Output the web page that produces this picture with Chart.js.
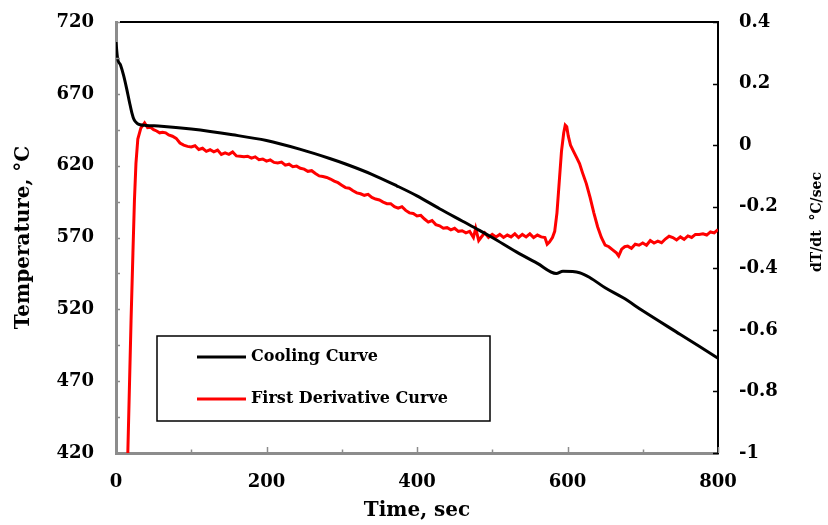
<!DOCTYPE html>
<html>
<head>
<meta charset="utf-8">
<title>Cooling curve</title>
<script src="https://cdn.jsdelivr.net/npm/chart.js@4.4.1/dist/chart.umd.min.js"></script>
<style>
  html, body { margin: 0; padding: 0; background: #fff; }
  #wrap { position: relative; width: 828px; height: 525px; }
</style>
</head>
<body>
<div id="wrap"><canvas id="coolingChart"></canvas></div>
<script>
(function () {
  'use strict';

  // ---- Data ----
  const coolTime = [0, 2, 6, 10, 14, 18, 21, 24, 28, 32, 40, 60, 100, 155, 200, 244, 284, 306, 340, 373, 400, 430,
    460, 483, 500, 532, 560, 585, 594, 616, 630, 650, 674, 700, 750, 800];
  const coolTemp = [706, 695, 690, 683, 674, 664, 657, 652, 649.5, 648.5, 648, 647.5, 645.5, 641.5, 637.5, 631.5, 625, 621, 614, 606, 599, 590,
    581.5, 575, 570, 560, 552, 545, 546.5, 545.5, 542, 535, 528, 519, 502.5, 486];

  const derivTime = [14, 15.7, 20, 22.5, 24.5, 26.5, 29, 33, 38, 42, 46, 50, 54, 58, 62, 66, 70, 75, 80, 85, 90, 95,
    100, 105, 110, 115, 120, 125, 130, 135, 140, 145, 150, 155, 160, 165, 170, 175, 180, 185, 190, 195,
    200, 205, 210, 215, 220, 225, 230, 235, 240, 245, 250, 255, 260, 265, 270, 275, 280, 285, 290, 295,
    300, 305, 310, 315, 320, 325, 330, 335, 340, 345, 350, 355, 360, 365, 370, 375, 380, 385, 390, 395,
    400, 405, 410, 415, 420, 425, 430, 435, 440, 445, 450, 455, 460, 465, 470, 475, 478, 482, 485, 490, 495,
    500, 505, 510, 515, 520, 525, 530, 535, 540, 545, 550, 555, 560, 565, 570, 573, 576, 580, 583, 586, 589, 592, 595, 597, 599,
    601, 604, 608, 612, 616, 620, 625, 630, 635, 640, 645, 650, 655, 660, 665, 668, 672, 676, 680, 685, 690, 695,
    700, 705, 710, 715, 720, 725, 730, 735, 740, 745, 750, 755, 760, 765, 770, 775, 780, 785, 790, 795, 800];
  const derivRate = [-1.1, -1, -0.57, -0.35, -0.18, -0.06, 0.02, 0.055, 0.072, 0.057, 0.058, 0.05, 0.046, 0.04, 0.042, 0.04, 0.033, 0.029, 0.022, 0.007, 0.0, -0.004,
    -0.006, -0.002, -0.014, -0.01, -0.02, -0.015, -0.022, -0.016, -0.03, -0.025, -0.03, -0.022, -0.035, -0.036, -0.038, -0.036, -0.042, -0.038, -0.047, -0.045,
    -0.052, -0.048, -0.056, -0.058, -0.055, -0.065, -0.062, -0.07, -0.068, -0.075, -0.078, -0.085, -0.083, -0.092, -0.1, -0.102, -0.105, -0.11, -0.117, -0.122,
    -0.13, -0.138, -0.14, -0.148, -0.155, -0.158, -0.163, -0.16, -0.17, -0.175, -0.178, -0.185, -0.19, -0.19, -0.2, -0.205, -0.2, -0.212, -0.22, -0.222,
    -0.23, -0.228, -0.24, -0.25, -0.245, -0.258, -0.262, -0.27, -0.268, -0.275, -0.27, -0.28, -0.278, -0.285, -0.28, -0.3, -0.27, -0.31, -0.3, -0.285, -0.3,
    -0.29, -0.298, -0.29, -0.3, -0.292, -0.298, -0.288, -0.3, -0.29, -0.298, -0.288, -0.3, -0.292, -0.298, -0.3, -0.322, -0.315, -0.3, -0.28, -0.22, -0.12, -0.02, 0.04, 0.065, 0.06,
    0.03, 0.0, -0.02, -0.04, -0.06, -0.09, -0.125, -0.17, -0.22, -0.265, -0.3, -0.325, -0.33, -0.34, -0.35, -0.36, -0.338, -0.33, -0.328, -0.335, -0.322, -0.325,
    -0.318, -0.325, -0.31, -0.318, -0.312, -0.317, -0.305, -0.296, -0.3, -0.308, -0.298, -0.306, -0.295, -0.3, -0.29, -0.29, -0.288, -0.292, -0.282, -0.285, -0.274];

  const timeTicks = [0, 200, 400, 600, 800];
  const tempTicks = [420, 470, 520, 570, 620, 670, 720];
  const rateTicks = [-1, -0.8, -0.6, -0.4, -0.2, 0, 0.2, 0.4];

  const FONT = "'DejaVu Serif', 'Liberation Serif', serif";
  const GREY = '#8c8c8c';

  // ---- Frame, inner tick marks, legend box, right title ----
  const decor = {
    id: 'decor',
    afterDraw(chart) {
      const { ctx, chartArea: a, scales } = chart;
      const xs = scales.x, yl = scales.y, yr = scales.y2;
      ctx.save();

      // top frame line
      ctx.strokeStyle = '#000';
      ctx.lineWidth = 2;
      ctx.beginPath();
      ctx.moveTo(a.left + 4, Math.round(a.top));
      ctx.lineTo(a.right, Math.round(a.top));
      ctx.stroke();

      // left axis ticks (inside)
      ctx.strokeStyle = GREY;
      ctx.lineWidth = 1.5;
      for (let v = tempTicks[0]; v <= tempTicks[tempTicks.length - 1]; v += 25) {
        const y = Math.round(yl.getPixelForValue(v)) + 0.5;
        ctx.beginPath();
        ctx.moveTo(a.left, y);
        ctx.lineTo(a.left + 4, y);
        ctx.stroke();
      }
      // bottom axis ticks (inside)
      for (let v = timeTicks[0]; v <= timeTicks[timeTicks.length - 1]; v += 100) {
        const x = Math.round(xs.getPixelForValue(v)) + 0.5;
        const len = timeTicks.includes(v) ? 6 : 3.5;
        ctx.beginPath();
        ctx.moveTo(x, a.bottom);
        ctx.lineTo(x, a.bottom - len);
        ctx.stroke();
      }
      // right axis ticks (inside)
      ctx.strokeStyle = '#000';
      rateTicks.forEach(v => {
        const y = Math.round(yr.getPixelForValue(v)) + 0.5;
        ctx.beginPath();
        ctx.moveTo(a.right, y);
        ctx.lineTo(a.right - 5, y);
        ctx.stroke();
      });

      // legend box
      const bx = a.left + 41, by = a.top + 314, bw = 333, bh = 85;
      ctx.fillStyle = '#fff';
      ctx.fillRect(bx, by, bw, bh);
      ctx.strokeStyle = '#000';
      ctx.lineWidth = 1.5;
      ctx.strokeRect(bx, by, bw, bh);
      ctx.font = 'bold 16px ' + FONT;
      ctx.textBaseline = 'middle';
      ctx.textAlign = 'left';
      chart.data.datasets.forEach((ds, i) => {
        const ly = by + 21 + i * 42;
        ctx.strokeStyle = ds.borderColor;
        ctx.lineWidth = ds.borderWidth;
        ctx.beginPath();
        ctx.moveTo(bx + 40, ly);
        ctx.lineTo(bx + 89, ly);
        ctx.stroke();
        ctx.fillStyle = '#000';
        ctx.fillText(ds.label, bx + 94, ly);
      });

      // right axis title, reading bottom to top
      ctx.font = 'bold 14px ' + FONT;
      ctx.fillStyle = '#000';
      ctx.textAlign = 'center';
      ctx.translate(817, 222);
      ctx.rotate(-Math.PI / 2);
      ctx.fillText('dT/dt  \u00B0C/sec', 0, 0);
      ctx.restore();
    }
  };

  const tickFont = { family: FONT, size: 18, weight: 'bold' };

  // fixed box sizes so the plot area lands where the reference has it
  const fixVertical = w => s => {
    s.width = w;
    s.paddingTop = 0;
    s.paddingBottom = 0;
  };

  new Chart(document.getElementById('coolingChart'), {
    type: 'line',
    data: {
      datasets: [{
        label: 'Cooling Curve',
        data: coolTime.map((t, i) => ({ x: t, y: coolTemp[i] })),
        yAxisID: 'y',
        borderColor: '#000',
        borderWidth: 3,
        pointRadius: 0,
        cubicInterpolationMode: 'monotone'
      }, {
        label: 'First Derivative Curve',
        data: derivTime.map((t, i) => ({ x: t, y: derivRate[i] })),
        yAxisID: 'y2',
        borderColor: '#ff0000',
        borderWidth: 3,
        pointRadius: 0,
        tension: 0
      }]
    },
    options: {
      responsive: true,
      maintainAspectRatio: false,
      animation: false,
      layout: { padding: { top: 22, left: 0, right: 0, bottom: 0 } },
      plugins: { legend: { display: false }, tooltip: { enabled: false } },
      scales: {
        x: {
          type: 'linear',
          min: 0,
          max: 800,
          afterFit: s => { s.height = 72; },
          afterBuildTicks: s => { s.ticks = timeTicks.map(v => ({ value: v })); },
          grid: { display: false, drawTicks: false },
          border: { display: true, color: GREY, width: 3 },
          ticks: { color: '#000', font: tickFont, padding: 19, maxRotation: 0 },
          title: {
            display: true,
            text: 'Time, sec',
            color: '#000',
            font: { family: FONT, size: 20, weight: 'bold' },
            padding: { top: 0, bottom: 2 }
          }
        },
        y: {
          position: 'left',
          min: 420,
          max: 720,
          afterFit: fixVertical(116),
          afterBuildTicks: s => { s.ticks = tempTicks.map(v => ({ value: v })); },
          grid: { display: false, drawTicks: false },
          border: { display: true, color: GREY, width: 3 },
          ticks: { color: '#000', font: tickFont, padding: 22 },
          title: {
            display: true,
            text: 'Temperature, \u00B0C',
            color: '#000',
            font: { family: FONT, size: 20, weight: 'bold' },
            padding: { top: 12, bottom: 0 }
          }
        },
        y2: {
          position: 'right',
          min: -1,
          max: 0.4,
          afterFit: fixVertical(110),
          afterBuildTicks: s => { s.ticks = rateTicks.map(v => ({ value: v })); },
          grid: { display: false, drawTicks: false },
          border: { display: true, color: '#000', width: 2 },
          ticks: {
            color: '#000',
            font: tickFont,
            padding: 21,
            callback: v => String(Math.round(v * 10) / 10)
          }
        }
      }
    },
    plugins: [decor]
  });
})();
</script>
</body>
</html>
